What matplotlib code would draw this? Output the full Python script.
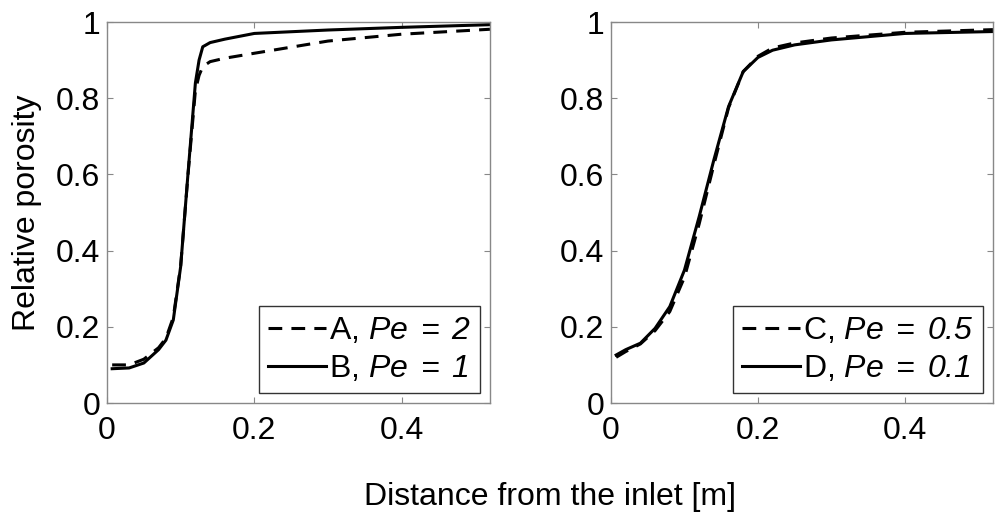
import matplotlib
matplotlib.use("Agg")
import matplotlib.pyplot as plt

plt.rcParams['font.family'] = ['Liberation Sans', 'DejaVu Sans']
plt.rcParams['mathtext.fontset'] = 'custom'
plt.rcParams['mathtext.rm'] = 'Liberation Sans:italic'
plt.rcParams['mathtext.it'] = 'Liberation Sans:italic'
plt.rcParams['mathtext.default'] = 'it'

# left panel, Pe = 2 (A, dashed) and Pe = 1 (B, solid)
xA = [0.007, 0.03, 0.05, 0.07, 0.08, 0.09, 0.10, 0.11, 0.12, 0.125, 0.13, 0.14, 0.16, 0.2, 0.3, 0.4, 0.52]
yA = [0.10, 0.10, 0.115, 0.145, 0.17, 0.225, 0.36, 0.60, 0.82, 0.86, 0.883, 0.896, 0.905, 0.918, 0.95, 0.968, 0.981]
xB = [0.007, 0.03, 0.05, 0.07, 0.08, 0.09, 0.10, 0.11, 0.12, 0.125, 0.13, 0.14, 0.16, 0.2, 0.3, 0.4, 0.52]
yB = [0.09, 0.092, 0.105, 0.14, 0.165, 0.218, 0.358, 0.603, 0.84, 0.90, 0.935, 0.946, 0.955, 0.97, 0.979, 0.986, 0.993]

# right panel, Pe = 0.5 (C, dashed) and Pe = 0.1 (D, solid)
xCD = [0.007, 0.02, 0.04, 0.06, 0.08, 0.10, 0.12, 0.14, 0.16, 0.18, 0.20, 0.22, 0.25, 0.3, 0.4, 0.52]
yC = [0.12, 0.135, 0.155, 0.19, 0.24, 0.33, 0.47, 0.625, 0.775, 0.87, 0.91, 0.932, 0.945, 0.958, 0.973, 0.98]
yD = [0.126, 0.14, 0.157, 0.196, 0.253, 0.349, 0.489, 0.638, 0.778, 0.87, 0.907, 0.926, 0.94, 0.953, 0.97, 0.975]

labels_left = [r"A, $Pe\;=\;2$", r"B, $Pe\;=\;1$"]
labels_right = [r"C, $Pe\;=\;0.5$", r"D, $Pe\;=\;0.1$"]

xticks = [0, 0.2, 0.4]
yticks = [0, 0.2, 0.4, 0.6, 0.8, 1]
fs = 23

fig = plt.figure(figsize=(10.02, 5.18), dpi=100)
ax1 = fig.add_axes([0.1068, 0.222, 0.3822, 0.7355])
ax2 = fig.add_axes([0.6098, 0.222, 0.3812, 0.7355])

ax1.plot(xA, yA, color='black', lw=2.2, dashes=(4.5, 3), label=labels_left[0])
ax1.plot(xB, yB, color='black', lw=2.2, label=labels_left[1])
ax2.plot(xCD, yC, color='black', lw=2.2, dashes=(4.5, 3), label=labels_right[0])
ax2.plot(xCD, yD, color='black', lw=2.2, label=labels_right[1])

for ax in (ax1, ax2):
    ax.set_xlim(0, 0.52)
    ax.set_ylim(0, 1)
    ax.set_xticks(xticks)
    ax.set_xticklabels(['0', '0.2', '0.4'])
    ax.set_yticks(yticks)
    ax.set_yticklabels(['0', '0.2', '0.4', '0.6', '0.8', '1'])
    ax.tick_params(direction='in', top=True, right=True, length=4, width=0.8,
                   color='#888888', labelsize=fs)
    ax.tick_params(axis='x', pad=9)
    ax.tick_params(axis='y', pad=5)
    for s in ax.spines.values():
        s.set_color('#888888')
        s.set_linewidth(1)
    leg = ax.legend(loc='lower right', fontsize=fs, handlelength=1.8, handletextpad=0.1,
                    labelspacing=0.25, borderpad=0.3, borderaxespad=0.3, fancybox=False)
    leg.get_frame().set_edgecolor('black')
    leg.get_frame().set_linewidth(1)

ax1.set_ylabel('Relative porosity', fontsize=fs, labelpad=10)
fig.text(0.549, 0.04, 'Distance from the inlet [m]', fontsize=fs, ha='center', va='center')

fig.savefig('out.png', dpi=100)
